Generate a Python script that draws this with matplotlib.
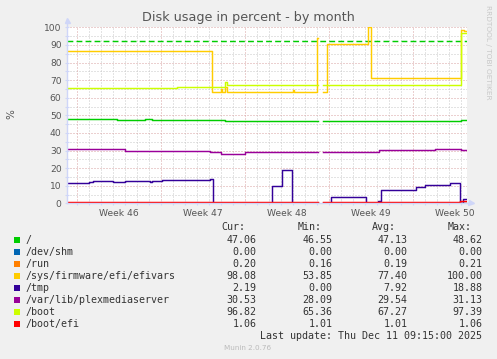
import numpy as np
import matplotlib
matplotlib.use("Agg")
import matplotlib.pyplot as plt
from matplotlib.patches import Rectangle

nan = np.nan

# ---------------- data (x = days since left edge of graph) ----------------
root_t = [0, 4.19, 6.53, 7.11, 13.03, 13.19, 20.97, 21.38, 22.0, 22.28, 32.83, 33.1, 33.3]
root_v = [47.8, 47.2, 47.8, 47.2, 47.5, 46.8, nan, 46.8, 46.55, 46.8, 47.5, 47.06, 47.06]

shm_t = [0, 20.97, 21.38, 33.3]
shm_v = [0.0, nan, 0.0, 0.0]

run_t = [0, 20.97, 21.38, 33.3]
run_v = [0.2, nan, 0.2, 0.2]

efi_t = [0, 12.11, 12.86, 12.98, 13.22, 13.36, 18.86, 18.94, 20.83, 20.97, 21.38,
         21.72, 25.15, 25.32, 32.83, 33.1, 33.3]
efi_v = [86.3, 63.3, 65.0, 63.3, 65.9, 63.3, 64.3, 63.3, 94.0, nan, 63.4,
         90.3, 100.0, 71.2, 98.5, 98.08, 98.08]

tmp_t = [0, 1.88, 2.19, 3.88, 4.86, 6.94, 7.11, 7.94, 11.94, 12.15, 12.83, 14.03,
         15.86, 16.94, 17.08, 17.92, 18.75, 20.97, 21.38, 22.03, 24.94, 25.92, 26.17,
         29.11, 29.86, 31.94, 32.8, 33.05, 33.3]
tmp_v = [11.4, 12.3, 12.7, 11.9, 12.5, 11.9, 12.5, 13.5, 13.9, 0.0, 0.3, 0.0,
         0.3, 0.0, 9.8, 18.88, 0.0, nan, 0.3, 3.4, 0.3, 1.5, 7.6,
         9.4, 10.4, 11.4, 0.3, 2.19, 2.19]

plex_t = [0, 4.86, 11.94, 12.83, 14.86, 18.94, 20.97, 21.38, 22.28, 24.94, 26.05,
          30.69, 31.05, 32.83, 33.3]
plex_v = [31.0, 30.0, 28.9, 28.1, 28.9, 29.4, nan, 29.4, 28.9, 29.4, 30.4,
          30.8, 31.1, 30.53, 30.53]

boot_t = [0, 2.11, 9.19, 13.19, 13.36, 20.97, 21.38, 32.83, 33.3]
boot_v = [65.4, 65.6, 66.3, 69.0, 67.4, nan, 67.4, 96.82, 96.82]

bootefi_t = [0, 20.97, 21.38, 32.8, 33.3]
bootefi_v = [1.01, nan, 1.01, 1.06, 1.06]

warning_level = 92

names = ["/", "/dev/shm", "/run", "/sys/firmware/efi/efivars", "/tmp",
         "/var/lib/plexmediaserver", "/boot", "/boot/efi"]
colors = ["#00CC00", "#0066B3", "#FF8000", "#FFCC00", "#330099",
          "#990099", "#CCFF00", "#FF0000"]
cur_vals = [47.06, 0.00, 0.20, 98.08, 2.19, 30.53, 96.82, 1.06]
min_vals = [46.55, 0.00, 0.16, 53.85, 0.00, 28.09, 65.36, 1.01]
avg_vals = [47.13, 0.00, 0.19, 77.40, 7.92, 29.54, 67.27, 1.01]
max_vals = [48.62, 0.00, 0.21, 100.00, 18.88, 31.13, 97.39, 1.06]

week_labels = ["Week 46", "Week 47", "Week 48", "Week 49", "Week 50"]
first_week_start = 0.88   # day offset of first week boundary
x_span = 400 / 12.0       # days shown
y_ticks = list(range(0, 101, 10))

series = [(root_t, root_v), (shm_t, shm_v), (run_t, run_v), (efi_t, efi_v),
          (tmp_t, tmp_v), (plex_t, plex_v), (boot_t, boot_v), (bootefi_t, bootefi_v)]

# ---------------- figure ----------------
plt.rcParams["lines.scale_dashes"] = False
W, H = 497, 359
fig = plt.figure(figsize=(W / 100, H / 100), dpi=100, facecolor="#F0F0F0")


def fx(px):
    return px / W


def fy(py):
    return 1 - py / H


left, right, top, bottom = 66.7, 466.7, 27.3, 203.3
ax = fig.add_axes([fx(left), fy(bottom), (right - left) / W, (bottom - top) / H])
ax.set_facecolor("white")
ax.set_xlim(0, x_span)
ax.set_ylim(0, 100)

AXIS = "#CFD6F8"
GRID = "#C8C8C8"
MGRID = "#D9A3A3"
FONT = "#555555"
dots = (0, (0.72, 1.44))

# grid
week_starts = [first_week_start + 7 * i for i in range(5)]
day_lines = [first_week_start + d for d in range(33) if d % 7 != 0]
for d in day_lines:
    ax.axvline(d, color=GRID, lw=0.72, linestyle=dots, zorder=0.5)
for w in week_starts:
    ax.axvline(w, color=MGRID, lw=0.72, linestyle=dots, zorder=0.6)
for y in range(5, 100, 10):
    ax.axhline(y, color=GRID, lw=0.72, linestyle=dots, zorder=0.5)
for y in range(10, 101, 10):
    ax.axhline(y, color=MGRID, lw=0.72, linestyle=dots, zorder=0.6)

# series
for (t, v), c in zip(series, colors):
    ax.plot(t, v, drawstyle="steps-post", color=c, lw=1.05, zorder=3)

ax.axhline(warning_level, color="#00CC00", lw=1.05, dashes=(4.2, 2.3), zorder=2.5)

# spines / axes
for s in ["top", "right"]:
    ax.spines[s].set_visible(False)
for s in ["left", "bottom"]:
    ax.spines[s].set_color(AXIS)
    ax.spines[s].set_linewidth(1.0)
    ax.spines[s].set_zorder(4)

ax.set_yticks(y_ticks)
ax.set_yticklabels([str(v) for v in y_ticks])
ax.set_yticks(list(range(5, 100, 10)), minor=True)
ax.tick_params(axis="y", which="both", direction="inout", length=3, width=0.8,
               color=AXIS, labelsize=6.6, labelcolor=FONT, pad=2.2)
for lab in ax.get_yticklabels():
    lab.set_fontfamily("DejaVu Sans")

week_centers = [w + 3.5 for w in week_starts]
ax.set_xticks(week_centers)
ax.set_xticklabels(week_labels)
ax.set_xticks(week_starts + day_lines, minor=True)
ax.tick_params(axis="x", which="major", length=0, labelsize=6.6, labelcolor=FONT, pad=4.2)
ax.tick_params(axis="x", which="minor", direction="inout", length=3, width=0.8, color=AXIS)

# arrows at axis ends
ax.plot([0, 0], [100, 103.5], color=AXIS, lw=1.0, clip_on=False, zorder=4)
ax.plot([0], [104.0], marker="^", markersize=3.6, color=AXIS, clip_on=False, zorder=4)
ax.plot([x_span, x_span + 0.3], [0, 0], color=AXIS, lw=1.0, clip_on=False, zorder=4)
ax.plot([x_span + 0.35], [0], marker=">", markersize=3.6, color=AXIS, clip_on=False, zorder=4)

# title, labels
fig.text(fx(248), fy(18), "Disk usage in percent - by month", ha="center", va="center",
         fontsize=9.2, color=FONT, family="DejaVu Sans")
fig.text(fx(11), fy(114), "%", rotation=90, ha="center", va="center",
         fontsize=7.5, color=FONT, family="DejaVu Sans")
fig.text(fx(488), fy(52), "RRDTOOL / TOBI OETIKER", rotation=270, ha="center", va="center",
         fontsize=5.3, color="#C8C8C8", family="DejaVu Sans")

# legend
mono = "DejaVu Sans Mono"
LEG = "#333333"
fs = 7.2
col_right = [256.7, 332.3, 407.3, 482.3]
headers = ["Cur:", "Min:", "Avg:", "Max:"]
for xr, hdr in zip(col_right, headers):
    fig.text(fx(xr - 11), fy(227.5), hdr, ha="right", va="center", fontsize=fs,
             color=LEG, family=mono)
row0, dy = 240.0, 11.95
for i, (n, c) in enumerate(zip(names, colors)):
    yc = row0 + i * dy
    fig.patches.append(Rectangle((fx(14.3), fy(yc + 3.0)), 6 / W, 6 / H,
                                 transform=fig.transFigure, facecolor=c,
                                 edgecolor="none"))
    fig.text(fx(26), fy(yc), n, ha="left", va="center", fontsize=fs, color=LEG, family=mono)
    for xr, vals in zip(col_right, [cur_vals, min_vals, avg_vals, max_vals]):
        fig.text(fx(xr), fy(yc), "%.2f" % vals[i], ha="right", va="center",
                 fontsize=fs, color=LEG, family=mono)
fig.text(fx(482.3), fy(335.7), "Last update: Thu Dec 11 09:15:00 2025", ha="right",
         va="center", fontsize=fs, color=LEG, family=mono)
fig.text(fx(248), fy(347.7), "Munin 2.0.76", ha="center", va="center", fontsize=5.2,
         color="#BBBBBB", family="DejaVu Sans")

fig.savefig("out.png", dpi=100, facecolor=fig.get_facecolor())
